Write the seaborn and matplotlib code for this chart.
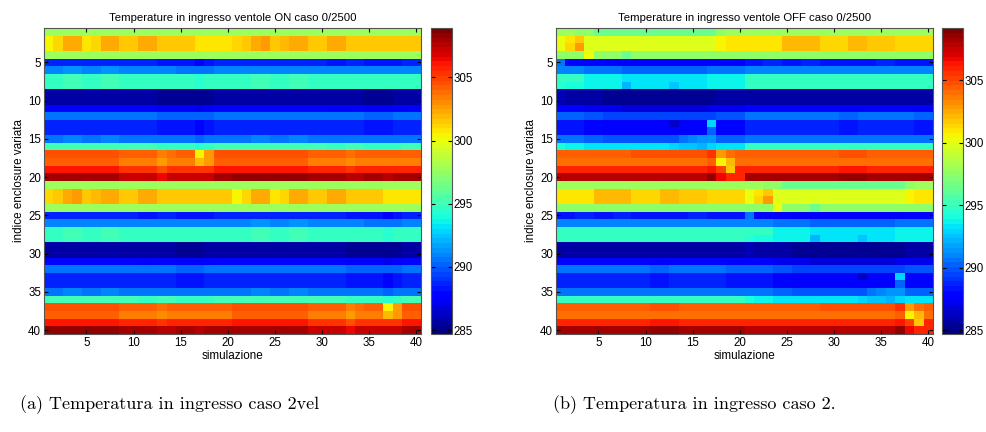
import numpy as np
import pandas as pd
import matplotlib
matplotlib.use("Agg")
import matplotlib.pyplot as plt
import seaborn as sns

# Each panel is 40x40. The top half (rows 1-20) is made of two blocks: A (cols 1-20)
# and B (cols 21-40). The bottom half repeats the top with the two blocks swapped.
# Values (temperatures in K).

# ---- ventole ON ----
base_on_a = [297.8, 301.2, 301.2, 297.6, 288.5, 291.0, 294.9, 294.9, 285.6, 285.6,
             287.8, 290.5, 288.6, 288.6, 290.7, 295.0, 304.6, 304.0, 305.9, 307.8]
base_on_b = [297.8, 301.2, 301.2, 297.6, 288.5, 291.0, 294.9, 294.9, 285.6, 285.6,
             287.8, 290.5, 288.6, 288.6, 290.7, 295.0, 304.6, 304.0, 306.1, 308.3]
ripple_on_warm = [-0.8, 0.0, 1.0, 1.0, -0.5, 0.0, 1.0, 1.0, 0.3, 0.3,
                  1.0, 1.0, 0.3, 0.3, 0.3, 0.3, -0.4, -0.4, -0.4, -0.4,
                  0.0, 0.3, 1.0, 1.4, 0.3, 0.6, 1.0, 1.0, 0.3, 0.3,
                  1.0, 1.0, 0.3, 0.3, 0.3, 0.3, 0.3, 0.3, 0.3, 0.3]
ripple_on_cold = [0.0, 0.0, 0.2, 0.2, 0.0, 0.0, 0.2, 0.2, 0.0, 0.0,
                  0.0, 0.0, -0.2, -0.2, -0.3, -0.3, -0.5, -0.3, 0.0, 0.0,
                  0.0, 0.0, 0.1, 0.1, 0.0, 0.0, 0.1, 0.1, 0.0, 0.0,
                  -0.1, -0.1, 0.0, 0.0, -0.2, -0.2, -0.2, -0.1, 0.0, 0.0]
ripple_on_hot = [0.0, 0.0, 0.0, 0.0, 0.0, 0.0, 0.0, 0.0, -0.5, -0.5,
                 -0.5, -0.5, -1.2, -0.7, -0.5, -0.5, -0.6, -0.5, 0.0, 0.0,
                 0.0, 0.0, 0.0, 0.0, 0.0, 0.0, 0.0, 0.0, -0.4, -0.4,
                 -0.4, -0.4, -0.9, -0.6, -0.4, -0.4, -0.6, -0.4, -0.4, -0.4]
spots_on = [(17, 17, 300.5), (17, 18, 302.8), (18, 17, 301.8), (18, 18, 302.8)]

# ---- ventole OFF ----
base_off_a = [296.2, 300.0, 300.0, 297.5, 287.8, 290.7, 293.8, 293.8, 285.5, 285.5,
              287.2, 289.8, 287.9, 287.9, 290.2, 293.5, 304.6, 304.0, 305.8, 307.8]
base_off_b = [297.8, 301.5, 301.5, 297.6, 288.5, 291.0, 294.8, 294.8, 285.6, 285.6,
              287.8, 290.5, 288.6, 288.6, 290.7, 294.9, 304.6, 304.0, 306.1, 308.3]
ripple_off_warm = [0.2, 1.0, 0.0, 0.0, -0.3, -0.3, -0.3, -0.3, -0.3, -0.3,
                   -0.3, -0.3, 0.0, 0.0, 0.0, 0.0, 0.0, 0.6, 1.0, 1.0,
                   -0.5, -0.5, -0.5, -0.5, 0.5, 0.5, 0.5, 0.5, 0.0, 0.0,
                   0.0, 0.5, 0.5, 0.3, 0.3, 0.3, 0.0, 0.0, 0.0, 0.0]
ripple_off_cold = [0.4, 0.3, 0.3, 0.0, 0.0, -0.2, -0.2, -0.3, -0.3, -0.3,
                   -0.3, -0.3, -0.4, -0.3, -0.3, -0.3, -0.2, 0.0, 0.0, 0.0,
                   0.0, 0.0, 0.1, 0.1, 0.0, 0.0, 0.1, 0.1, 0.0, 0.0,
                   -0.1, -0.1, 0.0, 0.0, 0.1, 0.1, 0.0, 0.0, -0.1, -0.1]
ripple_off_hot = [0.0, 0.0, 0.0, 0.0, 0.0, 0.0, 0.0, 0.0, 0.2, 0.2,
                  0.2, 0.2, 0.2, 0.2, 0.2, 0.2, 0.5, 0.0, 0.0, 0.0,
                  0.0, 0.0, 0.0, 0.0, 0.0, 0.0, 0.0, 0.0, 0.0, 0.0,
                  0.2, 0.2, 0.2, 0.0, 0.0, 0.0, 0.0, 0.0, 0.0, 0.0]
spots_off = [(1, 1, 297.8), (1, 2, 297.8), (1, 3, 297.6), (1, 4, 297.4),
             (1, 18, 297.4), (1, 19, 297.8), (1, 20, 297.8),
             (2, 3, 301.6), (3, 2, 301.5), (3, 3, 302.8), (4, 4, 300.2), (4, 8, 296.5),
             (5, 1, 290.5), (7, 1, 294.8), (7, 2, 294.8), (7, 3, 295.0), (8, 1, 294.6),
             (8, 8, 292.2), (8, 13, 292.5),
             (13, 13, 286.6), (13, 17, 292.8), (14, 17, 290.3),
             (15, 14, 290.8), (15, 15, 291.0), (15, 16, 291.4), (15, 17, 291.4),
             (16, 14, 292.6), (16, 15, 292.6), (16, 16, 292.3), (16, 17, 292.8),
             (17, 17, 305.6), (17, 18, 302.8), (17, 19, 304.0),
             (18, 18, 300.4), (18, 19, 302.2), (18, 20, 304.0),
             (19, 17, 306.3), (19, 18, 305.0), (19, 19, 301.8), (19, 20, 305.8),
             (20, 17, 308.6), (20, 18, 306.6), (20, 19, 305.9), (20, 20, 305.9)]

ticks = [5, 10, 15, 20, 25, 30, 35, 40]
cbar_ticks = [285, 290, 295, 300, 305]


def build(base_a, base_b, rip_warm, rip_cold, rip_hot, spots):
    top = np.empty((20, 40))
    top[:, :20] = np.array(base_a)[:, None]
    top[:, 20:] = np.array(base_b)[:, None]
    top[1:3] += np.array(rip_warm)
    top[4:16] += np.array(rip_cold)
    top[16:20] += np.array(rip_hot)
    for r, c, v in spots:
        top[r - 1, c - 1] = v
    bottom = np.hstack([top[:, 20:], top[:, :20]])
    full = np.vstack([top, bottom])
    return pd.DataFrame(full, index=range(1, 41), columns=range(1, 41))


data_on = build(base_on_a, base_on_b, ripple_on_warm, ripple_on_cold, ripple_on_hot, spots_on)
data_off = build(base_off_a, base_off_b, ripple_off_warm, ripple_off_cold, ripple_off_hot, spots_off)

plt.rcParams['font.family'] = ['Liberation Sans', 'DejaVu Sans']

fig = plt.figure(figsize=(9.86, 4.32), dpi=100)
W, H = 986.0, 432.0


def panel(df, title, ax_px, cax_px, vmin, vmax):
    ax = fig.add_axes([ax_px / W, 1 - 334 / H, 377 / W, 306 / H])
    cax = fig.add_axes([cax_px / W, 1 - 334 / H, 21 / W, 306 / H])
    sns.heatmap(df, ax=ax, cbar_ax=cax, cmap=plt.get_cmap('jet', 64),
                vmin=vmin, vmax=vmax, xticklabels=False, yticklabels=False)
    ax.set_xticks([t - 0.5 for t in ticks])
    ax.set_xticklabels(ticks, fontsize=8.3, rotation=0)
    ax.set_yticks([t - 0.5 for t in ticks])
    ax.set_yticklabels(ticks, fontsize=8.3, rotation=0)
    ax.tick_params(direction='in', length=3, top=True, right=True, pad=2, color='black')
    for s in ax.spines.values():
        s.set_visible(True)
        s.set_color('#555555')
        s.set_linewidth(0.8)
    ax.set_title(title, fontsize=8.2, pad=5)
    ax.set_xlabel('simulazione', fontsize=8.4, labelpad=1)
    ax.set_ylabel('indice enclosure variata', fontsize=8.4, labelpad=2)
    cb = ax.collections[0].colorbar
    cb.set_ticks(cbar_ticks)
    cb.outline.set_linewidth(0.8)
    cb.outline.set_edgecolor('#555555')
    cax.tick_params(direction='in', length=3, left=True, right=True, labelsize=8.3, pad=1)
    return ax


panel(data_on, 'Temperature in ingresso ventole ON caso 0/2500', 44, 431, 284.7, 308.9)
panel(data_off, 'Temperature in ingresso ventole OFF caso 0/2500', 556, 942, 284.7, 309.2)

fig.text(20 / W, 1 - 405 / H, '(a) Temperatura in ingresso caso 2vel',
         family='cmr10', fontsize=13, va='center', ha='left')
fig.text(553 / W, 1 - 405 / H, '(b) Temperatura in ingresso caso 2.',
         family='cmr10', fontsize=13, va='center', ha='left')

fig.savefig('out.png', dpi=100)
